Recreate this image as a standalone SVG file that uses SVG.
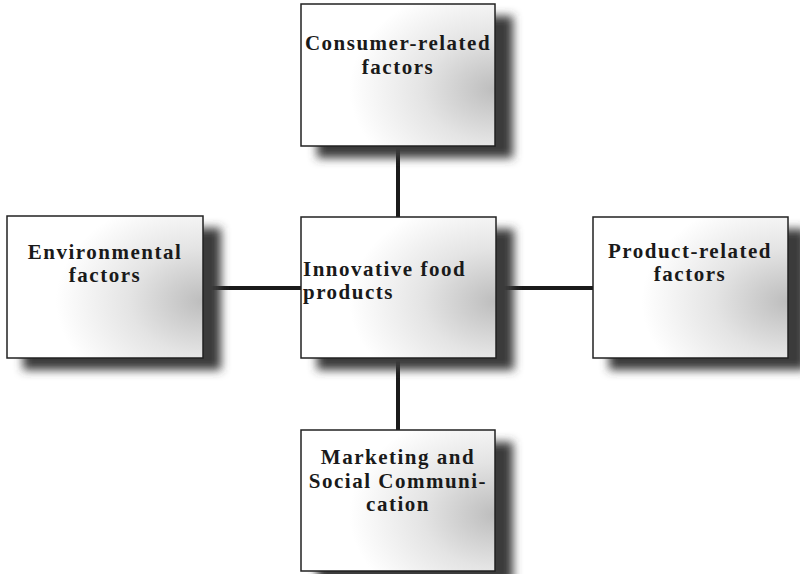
<svg xmlns="http://www.w3.org/2000/svg" width="800" height="574" viewBox="0 0 800 574">
<style>
.conn{stroke:#1a1a1a;stroke-width:4;fill:none}
.shadow{fill:#3a3a3a}
.box{fill:url(#grad);stroke:#222;stroke-width:1.5}
.t{font-family:"Liberation Serif","Times New Roman",serif;font-weight:bold;font-size:21px;letter-spacing:1.5px;fill:#1a1a1a}
.c{text-anchor:middle}
</style>
<defs>
<radialGradient id="grad" cx="1" cy="0.6" r="0.75" fx="1" fy="0.6">
<stop offset="0" stop-color="#bdbdbd"/>
<stop offset="0.5" stop-color="#e4e4e4"/>
<stop offset="1" stop-color="#ffffff"/>
</radialGradient>
<filter id="blur" x="-20%" y="-20%" width="140%" height="140%">
<feGaussianBlur stdDeviation="5"/>
</filter>
</defs>
<rect width="800" height="574" fill="#ffffff"/>
<g id="connectors">
<line class="conn" x1="398" y1="146" x2="398" y2="217"/>
<line class="conn" x1="398" y1="358" x2="398" y2="430"/>
<line class="conn" x1="203" y1="288" x2="301" y2="288"/>
<line class="conn" x1="496" y1="288" x2="593" y2="288"/>
</g>
<g id="consumer">
<rect class="shadow" x="317" y="16" width="196" height="142" filter="url(#blur)"/>
<rect class="box" x="301" y="4" width="194" height="142"/>
<text class="t c" x="398" y="50">Consumer-related</text>
<text class="t c" x="398" y="73.5">factors</text>
</g>
<g id="environmental">
<rect class="shadow" x="23" y="228" width="198" height="142" filter="url(#blur)"/>
<rect class="box" x="7" y="216" width="196" height="142"/>
<text class="t c" x="105" y="258.5">Environmental</text>
<text class="t c" x="105" y="282">factors</text>
</g>
<g id="innovative">
<rect class="shadow" x="317" y="229" width="197" height="141" filter="url(#blur)"/>
<rect class="box" x="301" y="217" width="195" height="141"/>
<text class="t" x="303" y="275.5">Innovative food</text>
<text class="t" x="303" y="299">products</text>
</g>
<g id="product">
<rect class="shadow" x="609" y="229" width="197" height="141" filter="url(#blur)"/>
<rect class="box" x="593" y="217" width="195" height="141"/>
<text class="t c" x="690" y="257.5">Product-related</text>
<text class="t c" x="690" y="281">factors</text>
</g>
<g id="marketing">
<rect class="shadow" x="317" y="442" width="196" height="141" filter="url(#blur)"/>
<rect class="box" x="301" y="430" width="194" height="141"/>
<text class="t c" x="398" y="464">Marketing and</text>
<text class="t c" x="398" y="487.5">Social Communi-</text>
<text class="t c" x="398" y="511">cation</text>
</g>
</svg>
